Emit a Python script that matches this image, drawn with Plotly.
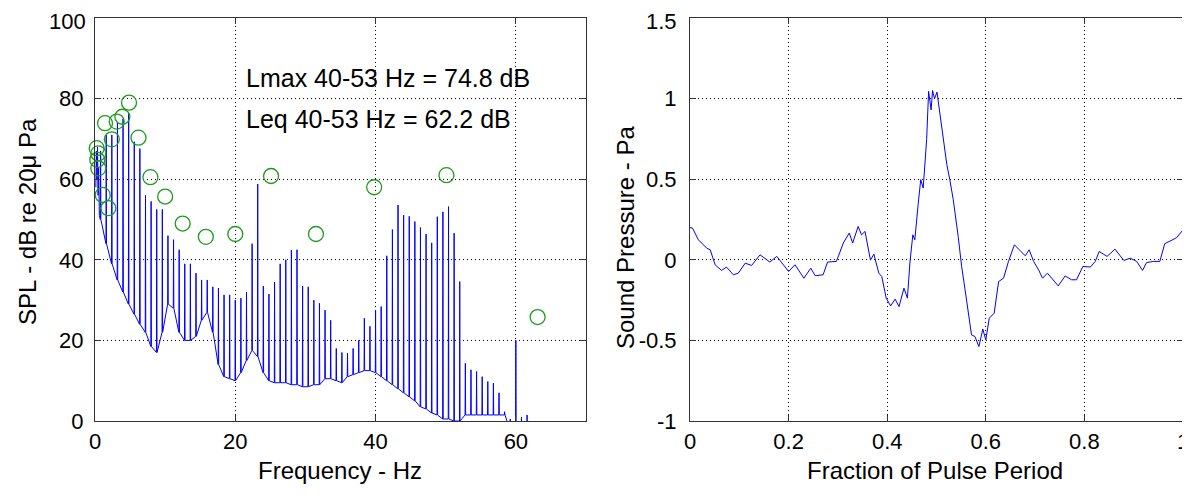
import plotly.graph_objects as go

# ---------------- Left panel: narrowband spectrum ----------------
# sub-harmonic region below the first harmonic
low_hz = [0.12, 0.2, 0.28, 0.36, 0.44, 0.52, 0.62]
low_db = [58, 67, 60, 68, 56, 63, 51]

# harmonic frequencies of the pulse (Hz)
harm_hz = [0.8, 1.6, 2.4, 3.2, 4.0, 4.8, 5.6, 6.4, 7.2, 8.0,
           8.8, 9.6, 10.4, 11.2, 12.0, 12.8, 13.6, 14.4, 15.2, 16.0,
           16.8, 17.6, 18.4, 19.2, 20.0, 20.8, 21.6, 22.4, 23.2, 24.0,
           24.8, 25.6, 26.4, 27.2, 28.0, 28.8, 29.6, 30.4, 31.2, 32.0,
           32.8, 33.6, 34.4, 35.2, 36.0, 36.8, 37.6, 38.4, 39.2, 40.0,
           40.8, 41.6, 42.4, 43.2, 44.0, 44.8, 45.6, 46.4, 47.2, 48.0,
           48.8, 49.6, 50.4, 51.2, 52.0, 52.8, 53.6, 54.4, 55.2, 56.0,
           56.8, 57.6, 58.4, 59.2, 60.0, 60.8, 61.6]
# spike top level at each harmonic (dB)
harm_peak_db = [67, 71, 71, 74, 75, 76.3, 69.3, 67.6, 56, 54.5,
                52.5, 52.5, 46, 45, 42.5, 39, 39, 36.7, 35, 35,
                33.3, 33, 31.3, 31.3, 30, 30.5, 32, 44, 58.8, 33.5,
                31.5, 34.5, 39, 40, 42.4, 42.5, 33.5, 33.3, 30, 29.2,
                27.5, 25, 18, 17, 16.8, 18, 20, 25.5, 23.5, 27.5,
                28.4, 41, 47.5, 53.6, 51.1, 50.8, 49.5, 48, 46.4, 44.2,
                50.7, 51.9, 53.2, 46.6, 34.6, 14.3, 12.7, 12.3, 11, 9.8,
                9.4, 7, 2.3, 0.5, 20, 1, 1.5]
# broadband floor level around each harmonic (dB)
harm_floor_db = [50, 44, 39, 35, 32, 29, 26.5, 24, 22, 18.5,
                 17, 22, 29, 28, 22, 20, 20, 21, 25, 27,
                 22, 14, 11, 10.5, 10, 12, 15, 17.5, 16, 12,
                 10, 9.5, 9.5, 9.5, 9, 9, 8.5, 8.5, 9, 9,
                 10.5, 10.5, 10, 9.5, 11, 11.5, 12, 12.5, 12.5, 12,
                 11, 10, 9, 8, 7, 6, 5, 3.5, 3, 2,
                 1.5, 0.5, 0.5, 0, 0, 1.5, 1.5, 1.5, 1.5, 1.5,
                 1.5, 1.5, 1.5, -2, -2, -2, -2]

# band levels (green circles), positions as drawn
band_hz = [0.24, 0.47, 0.33, 0.47, 1.1, 1.9, 1.43, 2.4, 3.1, 3.9,
           4.85, 6.2, 7.9, 10.0, 12.5, 15.8, 20.0, 25.1, 31.5, 39.8,
           50.1, 63.1]
band_db = [67.7, 66.4, 64.8, 62.7, 56.1, 52.8, 73.9, 69.9, 74.3, 75.5,
           79.0, 70.3, 60.5, 55.7, 49.0, 45.7, 46.4, 60.8, 46.4, 58.0,
           61.0, 25.8]

# ---------------- Right panel: pulse waveform ----------------
frac = [0.0, 0.005, 0.017, 0.034, 0.041, 0.051, 0.064, 0.074, 0.088, 0.098,
        0.112, 0.125, 0.142, 0.162, 0.176, 0.2, 0.213, 0.231, 0.245, 0.254,
        0.27, 0.279, 0.297, 0.311, 0.323, 0.330, 0.341, 0.348, 0.355, 0.366,
        0.373, 0.383, 0.389, 0.398, 0.407, 0.416, 0.424, 0.434, 0.441, 0.446,
        0.452, 0.456, 0.463, 0.468, 0.473, 0.480, 0.484, 0.489, 0.492, 0.496,
        0.501, 0.505, 0.509, 0.515, 0.521, 0.527, 0.534, 0.544, 0.551, 0.558,
        0.564, 0.571, 0.578, 0.586, 0.594, 0.600, 0.607, 0.617, 0.626, 0.636,
        0.646, 0.658, 0.668, 0.680, 0.688, 0.697, 0.707, 0.715, 0.725, 0.736,
        0.747, 0.761, 0.774, 0.784, 0.797, 0.812, 0.822, 0.830, 0.846, 0.862,
        0.880, 0.893, 0.906, 0.918, 0.926, 0.940, 0.953, 0.963, 0.977, 0.987,
        1.0]
pressure = [0.2, 0.197, 0.124, 0.072, 0.062, -0.031, -0.066, -0.045, -0.093, -0.083,
            -0.021, -0.035, 0.031, -0.014, 0.021, -0.072, -0.031, -0.114, -0.052, -0.099,
            -0.093, -0.014, -0.010, 0.104, 0.166, 0.104, 0.207, 0.155, 0.176, -0.002,
            0.035, -0.083, -0.104, -0.238, -0.286, -0.244, -0.29, -0.176, -0.238, -0.02,
            0.155, 0.124, 0.35, 0.497, 0.445, 0.745, 1.045, 0.93, 1.05, 1.0,
            1.04, 0.95, 0.87, 0.75, 0.59, 0.497, 0.373, 0.145, -0.041, -0.186,
            -0.331, -0.466, -0.476, -0.538, -0.43, -0.497, -0.362, -0.331, -0.135, -0.114,
            -0.01, 0.093, 0.062, 0.025, 0.062, -0.01, -0.062, -0.114, -0.083, -0.124,
            -0.162, -0.1, -0.124, -0.124, -0.041, -0.045, -0.01, 0.052, 0.021, 0.066,
            -0.004, 0.010, -0.010, -0.066, -0.017, -0.01, -0.01, 0.1, 0.124, 0.137,
            0.186]

# tick labels
spl_ticks = [0, 20, 40, 60, 80, 100]
freq_ticks = [0, 20, 40, 60]
frac_ticks = [0, 0.2, 0.4, 0.6, 0.8, 1]
frac_labels = ["0", "0.2", "0.4", "0.6", "0.8", "1"]
p_ticks = [-1, -0.5, 0, 0.5, 1, 1.5]
p_labels = ["-1", "-0.5", "0", "0.5", "1", "1.5"]

# ---------------- Build spectrum path ----------------
spec_x, spec_y = [], []
for f, d in zip(low_hz, low_db):
    spec_x.append(f)
    spec_y.append(d)
for f, pk, fl in zip(harm_hz, harm_peak_db, harm_floor_db):
    spec_x += [f - 0.04, f, f + 0.04]
    spec_y += [fl, pk, fl]

BLUE = "#0000ff"
GREEN = "#1f9a1f"
FONT = "Liberation Sans, Arial, Helvetica, sans-serif"
FS_TICK = 22
FS_TITLE = 24
FS_ANN = 25

OFF = 8  # page body margin of the browser
W, H = 1190 - OFF, 495 - OFF


def px(x):
    return (x - OFF) / W


def py(y):
    return 1 - (y - OFF) / H


fig = go.Figure()
fig.add_trace(go.Scatter(x=spec_x, y=spec_y, mode="lines",
                         line=dict(color=BLUE, width=1),
                         xaxis="x", yaxis="y", showlegend=False,
                         hoverinfo="skip"))
fig.add_trace(go.Scatter(x=band_hz, y=band_db, mode="markers",
                         marker=dict(symbol="circle-open", size=15,
                                     color=GREEN, line=dict(width=1.3, color=GREEN)),
                         xaxis="x", yaxis="y", showlegend=False, cliponaxis=False))
fig.add_trace(go.Scatter(x=frac, y=pressure, mode="lines",
                         line=dict(color=BLUE, width=1),
                         xaxis="x2", yaxis="y2", showlegend=False))

axis_common = dict(
    automargin=False, ticklabeloverflow="allow",
    showline=True, mirror="ticks", linecolor="#333333", linewidth=1,
    ticks="inside", ticklen=6, tickcolor="#333333", tickwidth=1,
    showgrid=True, gridcolor="black", gridwidth=1, griddash="1px,3px",
    zeroline=False, tickfont=dict(family=FONT, size=FS_TICK, color="black"),
)

# top-most y tick labels are drawn as annotations so they stay inside the page
spl_text = [str(v) for v in spl_ticks[:-1]] + [""]
p_text = p_labels[:-1] + [""]

ydom = [py(421), py(18)]
fig.update_layout(
    width=W, height=H,
    margin=dict(l=0, r=0, t=0, b=0, autoexpand=False),
    paper_bgcolor="white", plot_bgcolor="white",
    font=dict(family=FONT, size=FS_TITLE, color="black"),
    xaxis=dict(domain=[px(95), px(586)], range=[0, 70],
               tickvals=freq_ticks, ticklabelstandoff=1, **axis_common),
    yaxis=dict(domain=ydom, range=[0, 100], tickvals=spl_ticks, ticktext=spl_text,
               ticklabelstandoff=6, **axis_common),
    xaxis2=dict(domain=[px(690), px(1183)], range=[0, 1], anchor="y2",
                tickvals=frac_ticks, ticktext=frac_labels,
                ticklabelstandoff=1, **axis_common),
    yaxis2=dict(domain=ydom, range=[-1, 1.5], anchor="x2",
                tickvals=p_ticks, ticktext=p_text,
                ticklabelstandoff=8, **axis_common),
)

ann = [
    dict(text="Lmax 40-53 Hz = 74.8 dB", x=21.2, y=85.1, xref="x", yref="y",
         xanchor="left", yanchor="middle", showarrow=False, font=dict(size=FS_ANN)),
    dict(text="Leq 40-53 Hz = 62.2 dB", x=21.2, y=74.9, xref="x", yref="y",
         xanchor="left", yanchor="middle", showarrow=False, font=dict(size=FS_ANN)),
    dict(text="Frequency - Hz", x=px(340), y=py(470), xref="paper", yref="paper",
         xanchor="center", yanchor="middle", showarrow=False),
    dict(text="Fraction of Pulse Period", x=px(935), y=py(470), xref="paper", yref="paper",
         xanchor="center", yanchor="middle", showarrow=False),
    dict(text="SPL - dB re 20\u03bc Pa", x=px(28), y=py(222), xref="paper", yref="paper",
         xanchor="center", yanchor="middle", textangle=-90, showarrow=False),
    dict(text="Sound Pressure - Pa", x=px(625), y=py(238), xref="paper", yref="paper",
         xanchor="center", yanchor="middle", textangle=-90, showarrow=False),
    dict(text=str(spl_ticks[-1]), x=px(87), y=1.0, xref="paper", yref="paper",
         xanchor="right", yanchor="top", showarrow=False, borderpad=0,
         font=dict(size=FS_TICK)),
    dict(text=p_labels[-1], x=px(678), y=1.0, xref="paper", yref="paper",
         xanchor="right", yanchor="top", showarrow=False, borderpad=0,
         font=dict(size=FS_TICK)),
]
fig.update_layout(annotations=ann)

fig.write_html("out.html")
